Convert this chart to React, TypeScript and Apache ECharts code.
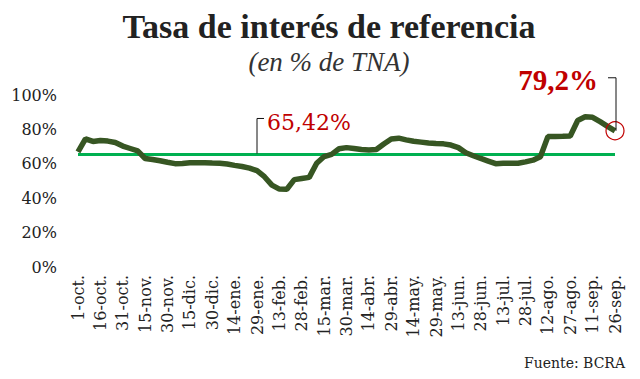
import React, { useEffect, useRef } from "react";
import * as echarts from "echarts";

// Fechas cada 5 días (1-oct a 26-sep)
const dates: string[] = [
  "1-oct.", "6-oct.", "11-oct.", "16-oct.", "21-oct.", "26-oct.", "31-oct.", "5-nov.", "10-nov.", "15-nov.",
  "20-nov.", "25-nov.", "30-nov.", "5-dic.", "10-dic.", "15-dic.", "20-dic.", "25-dic.", "30-dic.", "4-ene.",
  "9-ene.", "14-ene.", "19-ene.", "24-ene.", "29-ene.", "3-feb.", "8-feb.", "13-feb.", "18-feb.", "23-feb.",
  "28-feb.", "5-mar.", "10-mar.", "15-mar.", "20-mar.", "25-mar.", "30-mar.", "4-abr.", "9-abr.", "14-abr.",
  "19-abr.", "24-abr.", "29-abr.", "4-may.", "9-may.", "14-may.", "19-may.", "24-may.", "29-may.", "3-jun.",
  "8-jun.", "13-jun.", "18-jun.", "23-jun.", "28-jun.", "3-jul.", "8-jul.", "13-jul.", "18-jul.", "23-jul.",
  "28-jul.", "2-ago.", "7-ago.", "12-ago.", "17-ago.", "22-ago.", "27-ago.", "1-sep.", "6-sep.", "11-sep.",
  "16-sep.", "21-sep.", "26-sep.",
];

// Tasa de referencia (% TNA)
const rate: number[] = [
  67, 74.5, 73, 73.6, 73.2, 72.4, 70.3, 68.9, 67.5, 63.1,
  62.5, 61.8, 60.9, 60.1, 60.2, 60.6, 60.6, 60.6, 60.4, 60.3,
  59.9, 59.1, 58.4, 57.5, 56, 52.5, 47.6, 45.3, 45.2, 50.8,
  51.5, 52.1, 60.3, 64.2, 65.5, 68.7, 69.4, 68.9, 68.3, 68,
  68.3, 71.5, 74.4, 74.9, 73.9, 73.1, 72.6, 72.1, 71.8, 71.6,
  70.9, 69.4, 66.4, 64.7, 63.1, 61.6, 60.1, 60.3, 60.3, 60.3,
  61.1, 62.1, 64.1, 75.8, 75.9, 76, 76.2, 85.2, 87.3, 87,
  84.5, 81.8, 79.2,
];

const average = 65.42;
const averageLabel = "65,42%";
const lastLabel = "79,2%";
const averageAnchorIndex = 24;

const yTicks = { min: 0, max: 100, interval: 20 };

const RED = "#c00000";
const SERIF = "DejaVu Serif";

export default function App() {
  const ref = useRef<HTMLDivElement>(null);

  useEffect(() => {
    if (!ref.current) return;
    const chart = echarts.init(ref.current, undefined, { renderer: "svg" });
    chart.setOption({
      animation: false,
      backgroundColor: "#ffffff",
      title: [
        {
          text: "Tasa de interés de referencia",
          left: 324,
          textAlign: "center",
          top: 4,
          textStyle: { fontFamily: "Liberation Serif", fontWeight: "bold", fontSize: 34, color: "#222" },
        },
        {
          text: "(en % de TNA)",
          left: 324,
          textAlign: "center",
          top: 43,
          textStyle: { fontFamily: "Liberation Serif", fontStyle: "italic", fontWeight: "normal", fontSize: 27, color: "#333" },
        },
        {
          text: "Fuente: BCRA",
          right: 10,
          top: 351,
          textStyle: { fontFamily: SERIF, fontWeight: "normal", fontSize: 14, color: "#222" },
        },
      ],
      grid: { left: 78, right: 25, top: 95, bottom: 112, containLabel: false },
      xAxis: {
        type: "category",
        data: dates,
        boundaryGap: false,
        axisLine: { show: false },
        axisTick: { show: false },
        splitLine: { show: false },
        axisLabel: {
          interval: 2,
          rotate: 90,
          margin: 8,
          fontFamily: SERIF,
          fontSize: 16,
          color: "#222",
        },
      },
      yAxis: {
        type: "value",
        min: yTicks.min,
        max: yTicks.max,
        interval: yTicks.interval,
        axisLine: { show: false },
        axisTick: { show: false },
        splitLine: { show: false },
        axisLabel: {
          formatter: "{value}%",
          margin: 21,
          fontFamily: SERIF,
          fontSize: 16,
          color: "#222",
        },
      },
      series: [
        {
          type: "line",
          data: rate,
          symbol: "none",
          lineStyle: { color: "#375623", width: 5.5 },
          z: 3,
          markLine: {
            silent: true,
            symbol: "none",
            label: { show: false },
            lineStyle: { color: "#00b050", width: 3, type: "solid" },
            data: [{ yAxis: average }],
            z: 2,
          },
        },
      ],
    });

    const last = chart.convertToPixel({ seriesIndex: 0 }, [rate.length - 1, rate[rate.length - 1]]) as number[];
    const avgPt = chart.convertToPixel({ seriesIndex: 0 }, [averageAnchorIndex, average]) as number[];
    const r = 9;
    const topY = last[1] - 53;
    const avgTop = avgPt[1] - 36;

    chart.setOption({
      graphic: [
        {
          type: "circle",
          shape: { cx: last[0], cy: last[1], r },
          style: { fill: "none", stroke: RED, lineWidth: 1.2 },
          z: 10,
        },
        {
          type: "polyline",
          shape: { points: [[last[0] + 1, last[1]], [last[0] + 1, topY], [last[0] - 7, topY]] },
          style: { stroke: "#111", lineWidth: 1, fill: "none" },
          z: 10,
        },
        {
          type: "text",
          x: last[0] - 17,
          y: topY + 2,
          style: {
            text: lastLabel,
            fill: RED,
            fontFamily: "Liberation Serif",
            fontWeight: "bold",
            fontSize: 29,
            align: "right",
            verticalAlign: "middle",
          },
          z: 10,
        },
        {
          type: "polyline",
          shape: { points: [[avgPt[0], avgPt[1] - 1], [avgPt[0], avgTop], [avgPt[0] + 7, avgTop]] },
          style: { stroke: "#111", lineWidth: 1, fill: "none" },
          z: 10,
        },
        {
          type: "text",
          x: avgPt[0] + 10,
          y: avgTop + 4,
          style: {
            text: averageLabel,
            fill: RED,
            fontFamily: "DejaVu Serif",
            fontSize: 22,
            align: "left",
            verticalAlign: "middle",
          },
          z: 10,
        },
      ],
    });

    return () => chart.dispose();
  }, []);

  return (
    <div
      ref={ref}
      style={{ position: "fixed", left: 0, top: 0, width: 640, height: 379, background: "#fff" }}
    />
  );
}
